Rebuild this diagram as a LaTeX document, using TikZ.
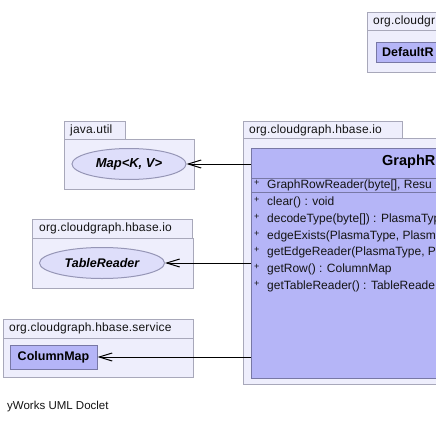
\documentclass[tikz,border=0pt]{standalone}
\usepackage{fontspec}
\setmainfont{Liberation Sans}
\newfontfamily\widefont[LetterSpace=1.5]{Liberation Sans}
\usetikzlibrary{shapes.geometric,arrows.meta}
\definecolor{pkgfill}{RGB}{238,238,252}
\definecolor{pkgline}{RGB}{168,168,186}
\definecolor{clsfill}{RGB}{181,181,247}
\definecolor{clsline}{RGB}{120,120,165}
\definecolor{iffill}{RGB}{222,222,250}
\definecolor{ifline}{RGB}{150,150,182}
\definecolor{txt}{RGB}{20,20,20}
\begin{document}
\begin{tikzpicture}[x=1pt,y=-1pt,
  pkg/.style={draw=pkgline,fill=pkgfill,line width=1pt,inner sep=0pt,anchor=north west},
  pkglabel/.style={anchor=west,inner sep=0pt,text=txt,font=\widefont\fontsize{12}{12}\selectfont},
  classbox/.style={draw=clsline,fill=clsfill,line width=1pt,inner sep=0pt,anchor=north west},
  classname/.style={inner sep=0pt,font=\fontsize{12.5}{13}\selectfont\bfseries},
  iface/.style={ellipse,draw=ifline,fill=iffill,line width=1pt,inner sep=0pt,minimum width=#1,minimum height=31},
  member/.style={anchor=west,inner sep=0pt,text=txt,font=\fontsize{12}{12}\selectfont},
  plus/.style={anchor=west,inner sep=0pt,text=txt,font=\fontsize{9}{9}\selectfont},
  sep/.style={draw=clsline,line width=1pt},
  dep/.style={draw=black,line width=1pt,-{Straight Barb[length=13pt,width=8pt,line width=1pt]}}]
\useasboundingbox (0,0) rectangle (436,423);
\clip (0,0) rectangle (436,423);
\fill[white] (0,0) rectangle (436,423);

% top-right package
\node[pkg,minimum width=90,minimum height=42] (pbtop) at (367,30) {};
\node[pkg,minimum width=90,minimum height=18] (pttop) at (367,12) {};
\node[pkglabel] (ltop) at (373,21) {org.cloudgr};
\node[classbox,minimum width=80,minimum height=20] (defr) at (376,42) {};
\node[classname,anchor=west] (defrname) at (382,52) {DefaultR};

% main package
\node[pkg,minimum width=220,minimum height=246] (pbmain) at (243,138) {};
\node[pkg,minimum width=159,minimum height=17] (ptmain) at (243,121) {};
\node[pkglabel] (lmain) at (249,130) {org.cloudgraph.hbase.io};
\node[classbox,minimum width=220,minimum height=230] (graph) at (251,148) {};
\node[classname,anchor=west,font=\fontsize{14.5}{15}\selectfont\bfseries] (gtitle) at (382,162) {GraphR};
\draw[sep] (251,178) -- (440,178);
\draw[sep] (251,192) -- (440,192);
\node[plus] (p0) at (254,183) {+};
\node[member] (m0) at (267,185.5) {GraphRowReader(byte[], Resu};
\foreach \i/\t in {1/{clear() : void},
                   2/{decodeType(byte[]) : PlasmaTyp},
                   3/{edgeExists(PlasmaType, Plasm},
                   4/{getEdgeReader(PlasmaType, P},
                   5/{getRow() : ColumnMap},
                   6/{getTableReader() : TableReade}} {
  \node[plus] (p\i) at (254,{185.5+16.8*\i-2.5}) {+};
  \node[member] (m\i) at (267,{185.5+16.8*\i}) {\t};
}

% java.util package
\node[pkg,minimum width=130,minimum height=50] (pbmap) at (64,139) {};
\node[pkg,minimum width=61,minimum height=18] (ptmap) at (64,121) {};
\node[pkglabel] (lmap) at (70,130) {java.util};
\node[iface=114] (map) at (129,164) {};
\node[classname,font=\fontsize{13}{13}\selectfont\bfseries\itshape] (mapname) at (129,164) {Map<K, V>};

% io package with TableReader
\node[pkg,minimum width=161,minimum height=50] (pbtr) at (32,238) {};
\node[pkg,minimum width=160,minimum height=19] (pttr) at (32,219) {};
\node[pkglabel] (ltr) at (39,228.5) {org.cloudgraph.hbase.io};
\node[iface=125] (tr) at (102,263) {};
\node[classname,font=\fontsize{12.5}{13}\selectfont\bfseries\itshape] (trname) at (102,263) {TableReader};

% service package with ColumnMap
\node[pkg,minimum width=190,minimum height=39] (pbcm) at (3,338) {};
\node[pkg,minimum width=190,minimum height=19] (ptcm) at (3,319) {};
\node[pkglabel] (lcm) at (9,328.5) {org.cloudgraph.hbase.service};
\node[classbox,minimum width=87,minimum height=24,anchor=center] (cm) at (53.5,357) {};
\node[classname] (cmname) at (53.5,357) {ColumnMap};

% dependencies
\draw[dep] (map -| graph.west) -- (map.east);
\draw[dep] (tr -| graph.west) -- (tr.east);
\draw[dep] (cm -| graph.west) -- (cm.east);

\node[member,font=\fontsize{11.5}{12}\selectfont] (credit) at (7,407) {yWorks UML Doclet};
\end{tikzpicture}
\end{document}
